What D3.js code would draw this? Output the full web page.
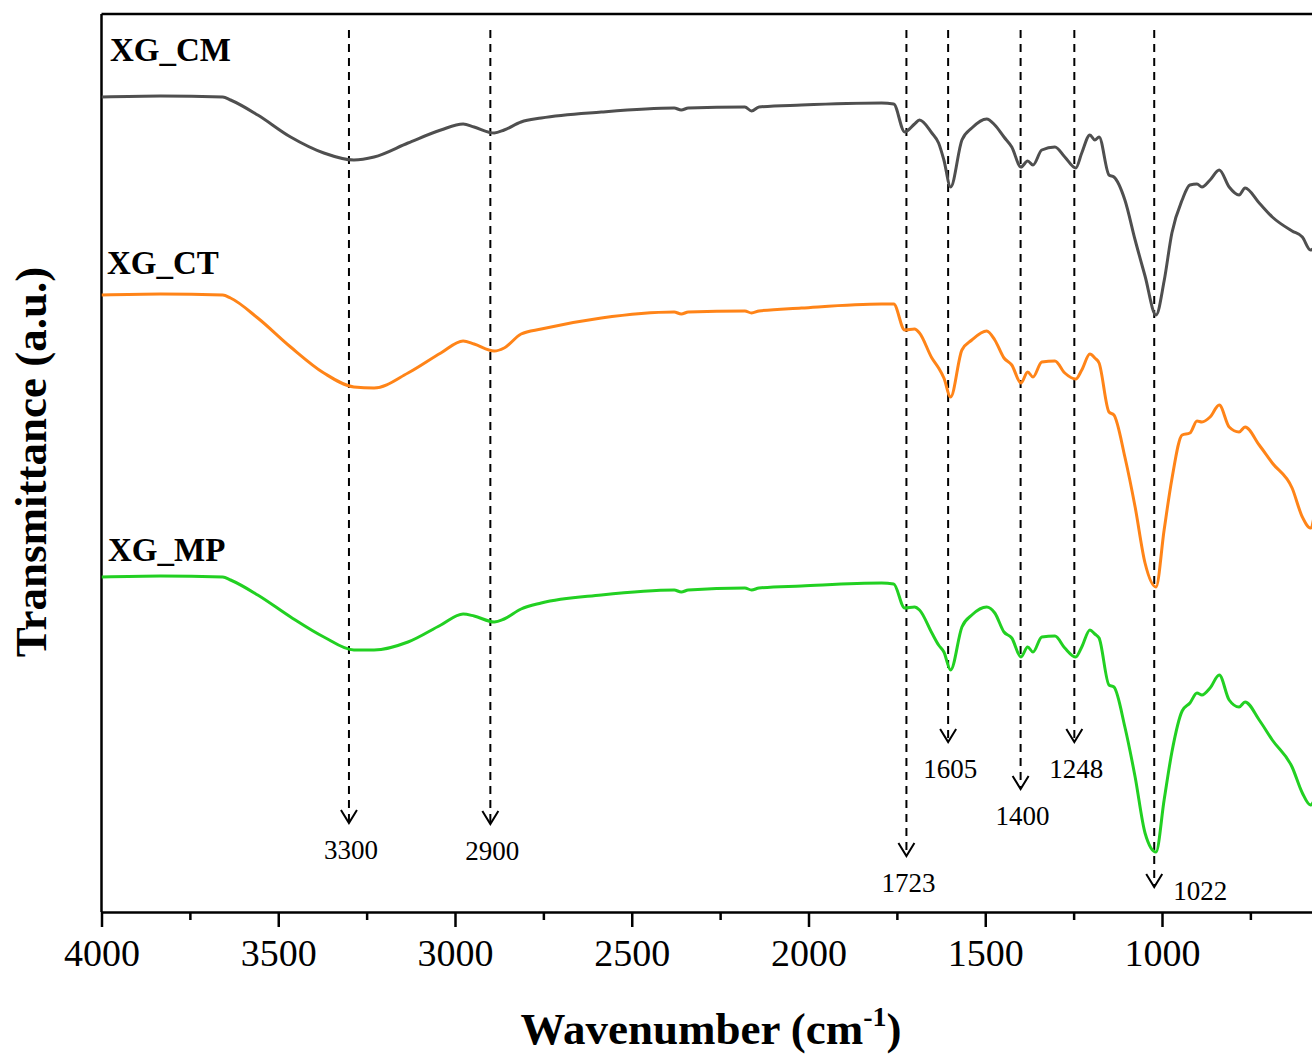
<!DOCTYPE html>
<html>
<head>
<meta charset="utf-8">
<script src="https://cdn.jsdelivr.net/npm/d3@7"></script>
<style>
  body { margin: 0; background: #fff; }
  svg { display: block; font-family: "Liberation Serif", "Times New Roman", serif; }
  svg text { font-family: "Liberation Serif", "Times New Roman", serif; }
</style>
</head>
<body>
<div id="chart"></div>
<script>
// FTIR spectra, offset vertically (a.u.)
const wavenumbers = [4000, 3833, 3657, 3635, 3558, 3465, 3371, 3286, 3229, 3133, 3040, 2977, 2946, 2889, 2861, 2813, 2756, 2586,
  2380, 2360, 2340, 2180, 2161, 2140, 2020, 1793, 1759, 1728, 1700, 1686, 1651, 1632, 1617, 1598, 1566, 1538, 1496, 1473,
  1447, 1425, 1399, 1380, 1365, 1340, 1303, 1275, 1244, 1227, 1204, 1190, 1178, 1150, 1136, 1105, 1076, 1048, 1017, 994,
  972, 943, 921, 901, 887, 864, 838, 810, 782, 765, 725, 688, 632, 603, 580, 569]

const xgCM = [81.3, 81.4, 81.3, 81.0, 79.5, 77.3, 75.7, 75.0, 75.3, 76.7, 78.0, 78.6, 78.3, 77.7, 78.0, 78.8, 79.2, 79.8,
  80.2, 80.0, 80.2, 80.3, 79.9, 80.3, 80.5, 80.7, 80.6, 77.8, 78.6, 79.0, 77.7, 76.7, 75.0, 72.3, 77.0, 78.2, 79.1, 78.5,
  77.3, 76.3, 74.3, 74.9, 74.5, 76.0, 76.3, 75.3, 74.2, 75.7, 77.5, 77.0, 77.3, 73.5, 73.3, 71.0, 67.0, 63.4, 59.5, 62.9,
  67.7, 71.0, 72.5, 72.6, 72.3, 73.0, 74.0, 72.3, 71.5, 72.2, 70.7, 69.3, 67.9, 67.3, 66.0, 66.2]

const xgCT = [61.5, 61.6, 61.5, 61.2, 59.2, 56.3, 53.7, 52.3, 52.2, 53.7, 55.7, 56.9, 56.6, 55.9, 56.2, 57.6, 58.1, 59.2,
  59.8, 59.6, 59.8, 59.9, 59.7, 59.9, 60.2, 60.6, 60.6, 58.0, 58.1, 57.7, 55.2, 54.2, 53.2, 51.3, 56.0, 57.0, 57.9, 57.0,
  55.2, 54.5, 52.7, 53.8, 53.3, 54.8, 54.9, 53.7, 53.1, 54.0, 55.6, 55.2, 54.7, 49.8, 49.5, 45.3, 40.3, 34.7, 32.3, 38.0,
  43.1, 47.5, 47.7, 48.9, 48.8, 49.3, 50.5, 48.3, 47.8, 48.3, 46.5, 44.7, 42.2, 39.3, 38.2, 39.5]

const xgMP = [33.3, 33.4, 33.3, 33.0, 31.5, 29.3, 27.3, 26.0, 26.0, 26.8, 28.5, 29.6, 29.4, 28.8, 29.1, 30.1, 30.7, 31.5,
  32.0, 31.8, 32.0, 32.2, 32.0, 32.2, 32.4, 32.7, 32.6, 30.2, 30.3, 30.0, 27.7, 26.5, 25.8, 24.0, 28.3, 29.5, 30.3, 29.7,
  27.8, 27.2, 25.3, 26.3, 25.8, 27.3, 27.4, 26.2, 25.3, 26.3, 28.0, 27.6, 27.2, 22.5, 22.3, 18.3, 13.3, 7.7, 5.8, 11.0,
  15.8, 19.9, 20.7, 21.7, 21.5, 22.2, 23.5, 21.0, 20.3, 20.8, 19.0, 17.0, 14.3, 11.7, 10.5, 11.0]

const seriesNames = ["XG_CM", "XG_CT", "XG_MP"]
const seriesLabelY = [84.9, 63.6, 34.9]
const colors = ["#4f4f4f", "#ff8418", "#22d022"]

const peaks = [3300, 2900, 1723, 1605, 1400, 1248, 1022]
const arrowTips = [8.7, 8.6, 5.4, 16.8, 12.1, 16.8, 2.3]

const majorTicks = [4000, 3500, 3000, 2500, 2000, 1500, 1000]
const minorTicks = [3750, 3250, 2750, 2250, 1750, 1250, 750]

document.addEventListener("DOMContentLoaded", () => {
  const W = 1312, H = 1056
  const left = 101.5, top = 14, bottom = 912
  const serif = "'Liberation Serif', 'Times New Roman', serif"

  const svg = d3.select("#chart")
    .append("svg")
      .attr("width", W)
      .attr("height", H)

  const x = d3.scaleLinear().domain([4000, 400]).range([left, left + 3600 * 0.3535])
  const y = d3.scaleLinear().domain([0, 89.6]).range([910, 14])

  svg.append("clipPath").attr("id", "plot")
    .append("rect")
      .attr("x", left).attr("y", top)
      .attr("width", W - left).attr("height", bottom - top)

  // frame (top + left, right side cut off)
  svg.append("line")
    .attr("x1", left).attr("x2", W + 5)
    .attr("y1", top).attr("y2", top)
    .style("stroke", "#000").style("stroke-width", 2.5)
  svg.append("line")
    .attr("x1", left).attr("x2", left)
    .attr("y1", top).attr("y2", bottom)
    .style("stroke", "#000").style("stroke-width", 2.5)

  // peak markers
  const g = svg.append("g").attr("clip-path", "url(#plot)")
  peaks.forEach((p, i) => {
    const px = x(p), tip = y(arrowTips[i])
    g.append("line")
      .attr("x1", px).attr("x2", px)
      .attr("y1", 30).attr("y2", tip - 1)
      .style("stroke", "#000")
      .style("stroke-width", 2)
      .style("stroke-dasharray", "8,6")
    g.append("path")
      .attr("d", `M${px - 8},${tip - 13}L${px},${tip}L${px + 8},${tip - 13}`)
      .style("fill", "none")
      .style("stroke", "#000")
      .style("stroke-width", 2)
  })

  // spectra
  const line = d3.line()
    .x((d, i) => x(wavenumbers[i]))
    .y(d => y(d))
    .curve(d3.curveMonotoneX)

  const all = [xgCM, xgCT, xgMP]
  g.selectAll("path.spec")
    .data(all)
    .enter()
    .append("path")
      .attr("class", "spec")
      .attr("d", line)
      .style("fill", "none")
      .style("stroke", (d, i) => colors[i])
      .style("stroke-width", 3)
      .style("stroke-linejoin", "round")

  // peak labels
  peaks.forEach((p, i) => {
    const last = i === peaks.length - 1
    svg.append("text")
      .attr("x", last ? x(p) + 46 : x(p) + 2)
      .attr("y", last ? y(arrowTips[i]) + 13 : y(arrowTips[i]) + 36)
      .attr("text-anchor", "middle")
      .style("font-size", "27px")
      .text(p)
  })

  // series names
  svg.selectAll("text.name")
    .data(seriesNames)
    .enter()
    .append("text")
      .attr("class", "name")
      .attr("x", (d, i) => [110, 107, 108][i])
      .attr("y", (d, i) => y(seriesLabelY[i]))
      .style("font-size", "33px")
      .style("font-weight", "bold")
      .text(d => d)

  // x axis
  const xAxis = svg.append("g")
    .attr("transform", `translate(0,${bottom})`)
    .call(d3.axisBottom(x).tickValues(majorTicks).tickSize(15).tickSizeOuter(0).tickPadding(12).tickFormat(d3.format("d")))
    .attr("font-family", serif)
  xAxis.select(".domain").style("stroke-width", 2.5)
  xAxis.selectAll(".tick line").style("stroke-width", 2.5)
  xAxis.selectAll(".tick text")
    .style("font-family", serif)
    .style("font-size", "38px")
    .attr("fill", "#000")

  const minor = svg.append("g")
    .attr("transform", `translate(0,${bottom})`)
    .call(d3.axisBottom(x).tickValues(minorTicks).tickSize(8).tickSizeOuter(0).tickFormat(""))
  minor.select(".domain").remove()
  minor.selectAll(".tick line").style("stroke-width", 2.5)

  // axis titles
  const xt = svg.append("text")
    .attr("x", 711)
    .attr("y", 1044)
    .attr("text-anchor", "middle")
    .style("font-size", "45px")
    .style("font-weight", "bold")
  xt.append("tspan").text("Wavenumber (cm")
  xt.append("tspan").attr("dy", -18).style("font-size", "28px").text("-1")
  xt.append("tspan").attr("dy", 18).text(")")

  svg.append("text")
    .attr("transform", "translate(31,462) rotate(-90)")
    .attr("text-anchor", "middle")
    .attr("dominant-baseline", "central")
    .style("font-size", "45px")
    .style("font-weight", "bold")
    .text("Transmittance (a.u.)")
})
</script>
</body>
</html>
